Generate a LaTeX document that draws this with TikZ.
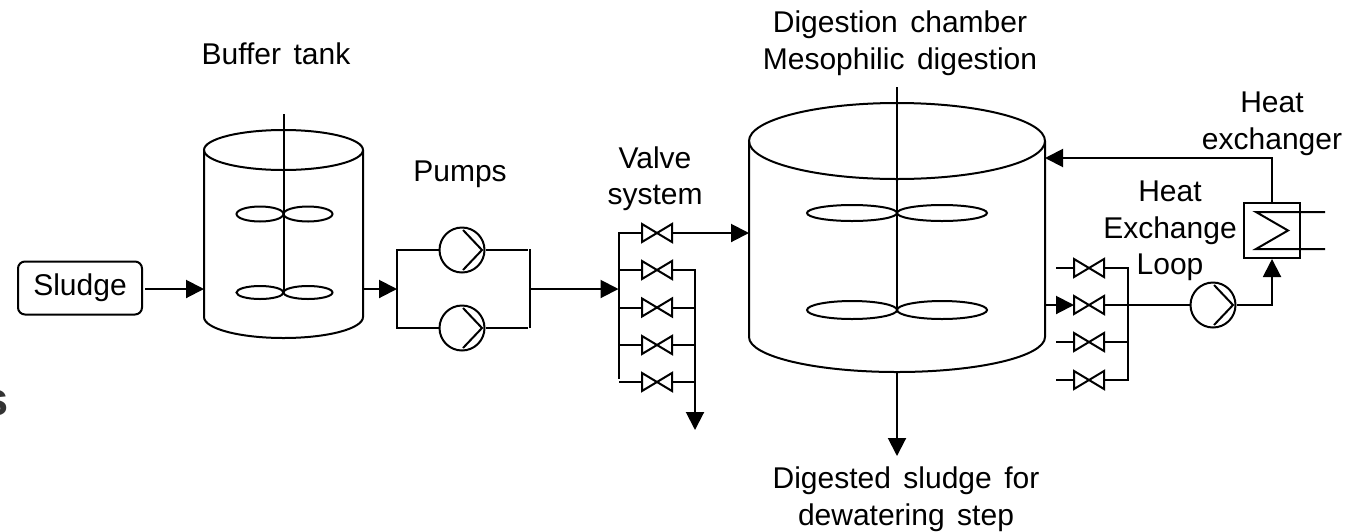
\documentclass[tikz,border=0pt]{standalone}
\usepackage{fontspec}
\setmainfont[WordSpace=1.5]{Liberation Sans}
\usetikzlibrary{arrows.meta}
\newcommand{\placevalve}[3]{%
  \node[valvebox] (#1) at (#2,#3) {};
  \draw[wire] (#1.north west) -- (#1.south east) -- (#1.north east) -- (#1.south west) -- cycle;}
\begin{document}
\begin{tikzpicture}[x=1pt,y=-1pt,
  wire/.style={line width=2pt},
  flow/.style={wire,-{Triangle[length=18pt,width=18pt]}},
  pumpbox/.style={circle,draw,line width=2pt,minimum size=45pt,inner sep=0pt,
    path picture={\draw[line width=2pt]
      ([shift={(1pt,20pt)}]path picture bounding box.center) --
      ([shift={(20pt,0pt)}]path picture bounding box.center) --
      ([shift={(1pt,-20pt)}]path picture bounding box.center);}},
  valvebox/.style={minimum width=30pt,minimum height=18pt,inner sep=0pt,outer sep=0pt},
  lab/.style={align=center,inner sep=0pt,font=\fontsize{30}{36.5}\selectfont},
  lobe/.style={wire}]
\useasboundingbox (0,0) rectangle (1367,531);
% stray letter at the left edge
\node[anchor=east,inner sep=0pt,text=black!80,font=\fontsize{47}{47}\selectfont\bfseries] (cut) at (9,403) {s};
% Sludge
\node[draw,line width=2pt,rounded corners=7pt,minimum width=124pt,minimum height=53pt,inner sep=0pt,font=\fontsize{30}{32}\selectfont] (sludge) at (80,288) {Sludge\hspace{4pt}};
% buffer tank
\draw[wire] (283.5,150) ellipse [x radius=79.5pt,y radius=20pt];
\draw[wire] (204,150) -- (204,317) arc[start angle=180,end angle=360,x radius=79.5pt,y radius=21pt] -- (363,150);
\draw[wire] (283.5,114) -- (283.5,292);
\draw[lobe] (260,214) ellipse [x radius=23.5pt,y radius=7.5pt];
\draw[lobe] (308,214) ellipse [x radius=24.5pt,y radius=7.5pt];
\draw[lobe] (260,292.5) ellipse [x radius=23.5pt,y radius=6.5pt];
\draw[lobe] (308,292.5) ellipse [x radius=24.5pt,y radius=6.5pt];
\coordinate (t1in) at (204,289);
\coordinate (t1out) at (363,289);
\draw[flow] (sludge.east |- t1in) ++(2,0) -- (t1in);
% pumps
\node[pumpbox] (p1) at (462,250) {};
\node[pumpbox] (p2) at (462,328) {};
\coordinate (pl) at (397,289);
\coordinate (prt) at (530,249);
\coordinate (prb) at (530,328);
\coordinate (prm) at (530,289);
\draw[flow] (t1out) -- (pl);
\draw[wire] (p1.west) -- (397,250) -- (397,328) -- (p2.west);
\draw[wire] (p1.east) -- (527.5,250);
\draw[wire] (p2.east) -- (527.5,328);
\draw[wire] (prt) -- (prb);
% valve bank 1
\coordinate (manin) at (618.5,289);
\draw[flow] (prm) -- (manin);
\placevalve{a1}{657}{233}
\placevalve{a2}{657}{270}
\placevalve{a3}{657}{307.5}
\placevalve{a4}{657}{345}
\placevalve{a5}{657}{382}
\draw[wire] (a1.west) -- (618.5,233) -- (618.5,379);
\foreach \v in {a2,a3,a4}{\draw[wire] (618.5,0 |- \v.west) -- (\v.west);}
\draw[wire] (619,382) -- (a5.west);
\coordinate (t2in) at (749,233);
\draw[flow] (a1.east) -- (t2in);
\coordinate (drain) at (695,430);
\draw[flow] (a2.east) -- (695,270) -- (drain);
\foreach \v in {a3,a4,a5}{\draw[wire] (\v.east) -- (695,0 |- \v.east);}
% digestion chamber
\draw[wire] (897,141) ellipse [x radius=148pt,y radius=38pt];
\draw[wire] (749,141) -- (749,337) arc[start angle=180,end angle=360,x radius=148pt,y radius=35pt] -- (1045,141);
\draw[wire] (897,87) -- (897,310);
\draw[lobe] (852,213) ellipse [x radius=45pt,y radius=8pt];
\draw[lobe] (942,213) ellipse [x radius=45pt,y radius=8pt];
\draw[lobe] (852,310) ellipse [x radius=45pt,y radius=9pt];
\draw[lobe] (942,310) ellipse [x radius=45pt,y radius=9pt];
\coordinate (t2bot) at (897,372);
\coordinate (t2end) at (897,456);
\draw[flow] (t2bot) -- (t2end);
% valve bank 2
\placevalve{b1}{1089}{268}
\placevalve{b2}{1089}{305}
\placevalve{b3}{1089}{342}
\placevalve{b4}{1089}{380}
\coordinate (t2out) at (1045,305);
\draw[flow] (t2out) -- (b2.west);
\foreach \v in {b1,b3,b4}{\draw[wire] (1056,0 |- \v.west) -- (\v.west);}
\draw[wire] (b1.east) -- (1128,268) -- (1128,380) -- (b4.east);
\draw[wire] (b3.east) -- (1128,342);
% loop pump and heat exchanger
\node[pumpbox] (p3) at (1213,305) {};
\draw[wire] (b2.east) -- (p3.west);
\node[draw,line width=2pt,minimum width=56pt,minimum height=55pt,inner sep=0pt] (hx) at (1272,230.5) {};
\draw[wire] (1325,212) -- (1256,212) -- (1288,230.5) -- (1256,249) -- (1325,249);
\draw[flow] (p3.east) -- (1272,305) -- (hx.south);
\coordinate (ret) at (1045,158);
\draw[flow] (hx.north) -- (1272,158) -- (ret);
% labels
\node[lab] (l1) at (276,54) {Buffer tank};
\node[lab] (l2) at (460,174) {Pumps};
\node[lab] (l3) at (655,178.5) {Valve\\system};
\node[lab] (l4) at (900,43) {Digestion chamber\\Mesophilic digestion};
\node[lab] (l5) at (1272,124) {Heat\\exchanger};
\node[lab] (l6) at (1170,231) {Heat\\Exchange\\Loop};
\node[lab] (l7) at (906,499) {Digested sludge for\\dewatering step};
\end{tikzpicture}
\end{document}
